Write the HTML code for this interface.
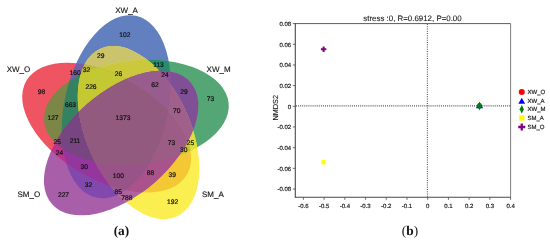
<!DOCTYPE html>
<html><head><meta charset="utf-8"><title>Venn and NMDS</title>
<style>
html,body{margin:0;padding:0;background:#fff;}
body{width:550px;height:242px;overflow:hidden;}
svg{display:block;will-change:transform;text-rendering:geometricPrecision;font-family:"Liberation Sans","DejaVu Sans",sans-serif;}
</style></head><body>
<svg width="550" height="242" viewBox="0 0 550 242">
<g id="venn">
<defs>
<clipPath id="cR"><ellipse cx="106.65" cy="127.69" rx="93.00" ry="51.90" transform="rotate(30.30 106.65 127.69)"/></clipPath>
<clipPath id="cB"><ellipse cx="116.21" cy="106.74" rx="93.00" ry="51.90" transform="rotate(102.30 116.21 106.74)"/></clipPath>
<clipPath id="cG"><ellipse cx="136.42" cy="112.31" rx="92.70" ry="51.90" transform="rotate(174.30 136.42 112.31)"/></clipPath>
<clipPath id="cY"><ellipse cx="138.53" cy="132.56" rx="92.15" ry="51.90" transform="rotate(245.50 138.53 132.56)"/></clipPath>
<clipPath id="cP"><ellipse cx="121.09" cy="143.11" rx="92.20" ry="51.70" transform="rotate(318.60 121.09 143.11)"/></clipPath>
</defs>
<ellipse cx="116.21" cy="106.74" rx="93.00" ry="51.90" transform="rotate(102.30 116.21 106.74)" fill="rgb(98,128,192)"/>
<ellipse cx="136.42" cy="112.31" rx="92.70" ry="51.90" transform="rotate(174.30 136.42 112.31)" fill="rgb(84,166,116)"/>
<ellipse cx="121.09" cy="143.11" rx="92.20" ry="51.70" transform="rotate(318.60 121.09 143.11)" fill="rgb(168,94,168)"/>
<ellipse cx="106.65" cy="127.69" rx="93.00" ry="51.90" transform="rotate(30.30 106.65 127.69)" fill="rgb(238,84,98)"/>
<ellipse cx="138.53" cy="132.56" rx="92.15" ry="51.90" transform="rotate(245.50 138.53 132.56)" fill="rgb(250,238,80)"/>
<g clip-path="url(#cB)"><g clip-path="url(#cG)"><rect x="0" y="0" width="260" height="242" fill="rgb(40,140,110)"/></g></g>
<g clip-path="url(#cB)"><g clip-path="url(#cP)"><rect x="0" y="0" width="260" height="242" fill="rgb(129,72,174)"/></g></g>
<g clip-path="url(#cB)"><g clip-path="url(#cY)"><rect x="0" y="0" width="260" height="242" fill="rgb(203,196,108)"/></g></g>
<g clip-path="url(#cG)"><g clip-path="url(#cP)"><rect x="0" y="0" width="260" height="242" fill="rgb(128,80,150)"/></g></g>
<g clip-path="url(#cG)"><g clip-path="url(#cY)"><rect x="0" y="0" width="260" height="242" fill="rgb(222,224,58)"/></g></g>
<g clip-path="url(#cR)"><g clip-path="url(#cB)"><rect x="0" y="0" width="260" height="242" fill="rgb(116,96,170)"/></g></g>
<g clip-path="url(#cR)"><g clip-path="url(#cG)"><rect x="0" y="0" width="260" height="242" fill="rgb(124,134,70)"/></g></g>
<g clip-path="url(#cR)"><g clip-path="url(#cP)"><rect x="0" y="0" width="260" height="242" fill="rgb(190,50,140)"/></g></g>
<g clip-path="url(#cR)"><g clip-path="url(#cY)"><rect x="0" y="0" width="260" height="242" fill="rgb(244,200,52)"/></g></g>
<g clip-path="url(#cY)"><g clip-path="url(#cP)"><rect x="0" y="0" width="260" height="242" fill="rgb(172,100,156)"/></g></g>
<g clip-path="url(#cB)"><g clip-path="url(#cG)"><g clip-path="url(#cP)"><rect x="0" y="0" width="260" height="242" fill="rgb(142,80,150)"/></g></g></g>
<g clip-path="url(#cB)"><g clip-path="url(#cG)"><g clip-path="url(#cY)"><rect x="0" y="0" width="260" height="242" fill="rgb(203,200,62)"/></g></g></g>
<g clip-path="url(#cB)"><g clip-path="url(#cY)"><g clip-path="url(#cP)"><rect x="0" y="0" width="260" height="242" fill="rgb(150,90,150)"/></g></g></g>
<g clip-path="url(#cG)"><g clip-path="url(#cY)"><g clip-path="url(#cP)"><rect x="0" y="0" width="260" height="242" fill="rgb(160,96,139)"/></g></g></g>
<g clip-path="url(#cR)"><g clip-path="url(#cB)"><g clip-path="url(#cG)"><rect x="0" y="0" width="260" height="242" fill="rgb(52,130,98)"/></g></g></g>
<g clip-path="url(#cR)"><g clip-path="url(#cB)"><g clip-path="url(#cP)"><rect x="0" y="0" width="260" height="242" fill="rgb(149,54,158)"/></g></g></g>
<g clip-path="url(#cR)"><g clip-path="url(#cB)"><g clip-path="url(#cY)"><rect x="0" y="0" width="260" height="242" fill="rgb(188,186,62)"/></g></g></g>
<g clip-path="url(#cR)"><g clip-path="url(#cG)"><g clip-path="url(#cP)"><rect x="0" y="0" width="260" height="242" fill="rgb(130,70,126)"/></g></g></g>
<g clip-path="url(#cR)"><g clip-path="url(#cG)"><g clip-path="url(#cY)"><rect x="0" y="0" width="260" height="242" fill="rgb(205,195,52)"/></g></g></g>
<g clip-path="url(#cR)"><g clip-path="url(#cY)"><g clip-path="url(#cP)"><rect x="0" y="0" width="260" height="242" fill="rgb(169,82,140)"/></g></g></g>
<g clip-path="url(#cB)"><g clip-path="url(#cG)"><g clip-path="url(#cY)"><g clip-path="url(#cP)"><rect x="0" y="0" width="260" height="242" fill="rgb(152,92,142)"/></g></g></g></g>
<g clip-path="url(#cR)"><g clip-path="url(#cB)"><g clip-path="url(#cG)"><g clip-path="url(#cP)"><rect x="0" y="0" width="260" height="242" fill="rgb(118,69,130)"/></g></g></g></g>
<g clip-path="url(#cR)"><g clip-path="url(#cB)"><g clip-path="url(#cG)"><g clip-path="url(#cY)"><rect x="0" y="0" width="260" height="242" fill="rgb(196,200,50)"/></g></g></g></g>
<g clip-path="url(#cR)"><g clip-path="url(#cB)"><g clip-path="url(#cY)"><g clip-path="url(#cP)"><rect x="0" y="0" width="260" height="242" fill="rgb(152,84,136)"/></g></g></g></g>
<g clip-path="url(#cR)"><g clip-path="url(#cG)"><g clip-path="url(#cY)"><g clip-path="url(#cP)"><rect x="0" y="0" width="260" height="242" fill="rgb(156,92,134)"/></g></g></g></g>
<g clip-path="url(#cR)"><g clip-path="url(#cB)"><g clip-path="url(#cG)"><g clip-path="url(#cY)"><g clip-path="url(#cP)"><rect x="0" y="0" width="260" height="242" fill="rgb(146,90,126)"/></g></g></g></g></g>
<text x="124.8" y="37.0" font-size="6.7" text-anchor="middle" fill="#111" stroke="#111" stroke-width="0.2">102</text>
<text x="100.8" y="58.4" font-size="6.7" text-anchor="middle" fill="#111" stroke="#111" stroke-width="0.2">29</text>
<text x="158.5" y="66.9" font-size="6.7" text-anchor="middle" fill="#111" stroke="#111" stroke-width="0.2">113</text>
<text x="165" y="76.7" font-size="6.7" text-anchor="middle" fill="#111" stroke="#111" stroke-width="0.2">24</text>
<text x="118.6" y="75.7" font-size="6.7" text-anchor="middle" fill="#111" stroke="#111" stroke-width="0.2">26</text>
<text x="86.6" y="71.7" font-size="6.7" text-anchor="middle" fill="#111" stroke="#111" stroke-width="0.2">32</text>
<text x="75.1" y="74.8" font-size="6.7" text-anchor="middle" fill="#111" stroke="#111" stroke-width="0.2">160</text>
<text x="41.5" y="94.4" font-size="6.7" text-anchor="middle" fill="#111" stroke="#111" stroke-width="0.2">98</text>
<text x="91" y="89.0" font-size="6.7" text-anchor="middle" fill="#111" stroke="#111" stroke-width="0.2">226</text>
<text x="70.5" y="107.4" font-size="6.7" text-anchor="middle" fill="#111" stroke="#111" stroke-width="0.2">663</text>
<text x="53" y="119.9" font-size="6.7" text-anchor="middle" fill="#111" stroke="#111" stroke-width="0.2">127</text>
<text x="123" y="120.0" font-size="6.7" text-anchor="middle" fill="#111" stroke="#111" stroke-width="0.2">1373</text>
<text x="155.1" y="86.7" font-size="6.7" text-anchor="middle" fill="#111" stroke="#111" stroke-width="0.2">62</text>
<text x="184" y="94.4" font-size="6.7" text-anchor="middle" fill="#111" stroke="#111" stroke-width="0.2">29</text>
<text x="210.5" y="101.2" font-size="6.7" text-anchor="middle" fill="#111" stroke="#111" stroke-width="0.2">73</text>
<text x="176.7" y="112.7" font-size="6.7" text-anchor="middle" fill="#111" stroke="#111" stroke-width="0.2">70</text>
<text x="190.5" y="145.2" font-size="6.7" text-anchor="middle" fill="#111" stroke="#111" stroke-width="0.2">25</text>
<text x="183.8" y="152.1" font-size="6.7" text-anchor="middle" fill="#111" stroke="#111" stroke-width="0.2">30</text>
<text x="171.4" y="145.4" font-size="6.7" text-anchor="middle" fill="#111" stroke="#111" stroke-width="0.2">73</text>
<text x="150.4" y="175.2" font-size="6.7" text-anchor="middle" fill="#111" stroke="#111" stroke-width="0.2">88</text>
<text x="172.2" y="177.2" font-size="6.7" text-anchor="middle" fill="#111" stroke="#111" stroke-width="0.2">39</text>
<text x="172.7" y="203.6" font-size="6.7" text-anchor="middle" fill="#111" stroke="#111" stroke-width="0.2">192</text>
<text x="118.3" y="178.2" font-size="6.7" text-anchor="middle" fill="#111" stroke="#111" stroke-width="0.2">100</text>
<text x="118.3" y="193.9" font-size="6.7" text-anchor="middle" fill="#111" stroke="#111" stroke-width="0.2">85</text>
<text x="126.8" y="199.8" font-size="6.7" text-anchor="middle" fill="#111" stroke="#111" stroke-width="0.2">788</text>
<text x="63.5" y="197.4" font-size="6.7" text-anchor="middle" fill="#111" stroke="#111" stroke-width="0.2">227</text>
<text x="88.6" y="187.0" font-size="6.7" text-anchor="middle" fill="#111" stroke="#111" stroke-width="0.2">32</text>
<text x="84.3" y="168.8" font-size="6.7" text-anchor="middle" fill="#111" stroke="#111" stroke-width="0.2">30</text>
<text x="59.5" y="154.9" font-size="6.7" text-anchor="middle" fill="#111" stroke="#111" stroke-width="0.2">24</text>
<text x="57.2" y="144.0" font-size="6.7" text-anchor="middle" fill="#111" stroke="#111" stroke-width="0.2">25</text>
<text x="75" y="143.4" font-size="6.7" text-anchor="middle" fill="#111" stroke="#111" stroke-width="0.2">211</text>
<text x="18.5" y="71.6" font-size="8" text-anchor="middle" fill="#111" stroke="#111" stroke-width="0.12">XW_O</text>
<text x="126.6" y="12.8" font-size="8" text-anchor="middle" fill="#111" stroke="#111" stroke-width="0.12">XW_A</text>
<text x="218.6" y="71.6" font-size="8" text-anchor="middle" fill="#111" stroke="#111" stroke-width="0.12">XW_M</text>
<text x="212.9" y="197.2" font-size="8" text-anchor="middle" fill="#111" stroke="#111" stroke-width="0.12">SM_A</text>
<text x="28.8" y="197.2" font-size="8" text-anchor="middle" fill="#111" stroke="#111" stroke-width="0.12">SM_O</text>
</g>
<g id="nmds">
<line x1="296" y1="105.9" x2="510.6" y2="105.9" stroke="#555" stroke-width="1.1" stroke-dasharray="1 1.07"/>
<line x1="427.4" y1="24" x2="427.4" y2="197.3" stroke="#555" stroke-width="1.1" stroke-dasharray="1 1.26"/>
<line x1="295.3" y1="23.6" x2="510.6" y2="23.6" stroke="#484848" stroke-width="0.9"/>
<line x1="510.6" y1="23.6" x2="510.6" y2="197.3" stroke="#484848" stroke-width="0.7"/>
<line x1="295.3" y1="23.1" x2="295.3" y2="197.8" stroke="#484848" stroke-width="1.1"/>
<line x1="295.3" y1="197.3" x2="510.6" y2="197.3" stroke="#484848" stroke-width="1.1"/>
<line x1="292.8" y1="189.02" x2="295.3" y2="189.02" stroke="#484848" stroke-width="0.8"/>
<text x="291.1" y="191.42" font-size="6" text-anchor="end" fill="#1a1a1a" stroke="#1a1a1a" stroke-width="0.18">-0.08</text>
<line x1="292.8" y1="168.34" x2="295.3" y2="168.34" stroke="#484848" stroke-width="0.8"/>
<text x="291.1" y="170.74" font-size="6" text-anchor="end" fill="#1a1a1a" stroke="#1a1a1a" stroke-width="0.18">-0.06</text>
<line x1="292.8" y1="147.66" x2="295.3" y2="147.66" stroke="#484848" stroke-width="0.8"/>
<text x="291.1" y="150.06" font-size="6" text-anchor="end" fill="#1a1a1a" stroke="#1a1a1a" stroke-width="0.18">-0.04</text>
<line x1="292.8" y1="126.98" x2="295.3" y2="126.98" stroke="#484848" stroke-width="0.8"/>
<text x="291.1" y="129.38" font-size="6" text-anchor="end" fill="#1a1a1a" stroke="#1a1a1a" stroke-width="0.18">-0.02</text>
<line x1="292.8" y1="106.30" x2="295.3" y2="106.30" stroke="#484848" stroke-width="0.8"/>
<text x="291.1" y="108.70" font-size="6" text-anchor="end" fill="#1a1a1a" stroke="#1a1a1a" stroke-width="0.18">0</text>
<line x1="292.8" y1="85.62" x2="295.3" y2="85.62" stroke="#484848" stroke-width="0.8"/>
<text x="291.1" y="88.02" font-size="6" text-anchor="end" fill="#1a1a1a" stroke="#1a1a1a" stroke-width="0.18">0.02</text>
<line x1="292.8" y1="64.94" x2="295.3" y2="64.94" stroke="#484848" stroke-width="0.8"/>
<text x="291.1" y="67.34" font-size="6" text-anchor="end" fill="#1a1a1a" stroke="#1a1a1a" stroke-width="0.18">0.04</text>
<line x1="292.8" y1="44.26" x2="295.3" y2="44.26" stroke="#484848" stroke-width="0.8"/>
<text x="291.1" y="46.66" font-size="6" text-anchor="end" fill="#1a1a1a" stroke="#1a1a1a" stroke-width="0.18">0.06</text>
<line x1="292.8" y1="23.58" x2="295.3" y2="23.58" stroke="#484848" stroke-width="0.8"/>
<text x="291.1" y="25.98" font-size="6" text-anchor="end" fill="#1a1a1a" stroke="#1a1a1a" stroke-width="0.18">0.08</text>
<line x1="303.38" y1="197.3" x2="303.38" y2="199.8" stroke="#484848" stroke-width="0.8"/>
<text x="303.38" y="207.70" font-size="6" text-anchor="middle" fill="#1a1a1a" stroke="#1a1a1a" stroke-width="0.18">-0.6</text>
<line x1="324.10" y1="197.3" x2="324.10" y2="199.8" stroke="#484848" stroke-width="0.8"/>
<text x="324.10" y="207.70" font-size="6" text-anchor="middle" fill="#1a1a1a" stroke="#1a1a1a" stroke-width="0.18">-0.5</text>
<line x1="344.82" y1="197.3" x2="344.82" y2="199.8" stroke="#484848" stroke-width="0.8"/>
<text x="344.82" y="207.70" font-size="6" text-anchor="middle" fill="#1a1a1a" stroke="#1a1a1a" stroke-width="0.18">-0.4</text>
<line x1="365.54" y1="197.3" x2="365.54" y2="199.8" stroke="#484848" stroke-width="0.8"/>
<text x="365.54" y="207.70" font-size="6" text-anchor="middle" fill="#1a1a1a" stroke="#1a1a1a" stroke-width="0.18">-0.3</text>
<line x1="386.26" y1="197.3" x2="386.26" y2="199.8" stroke="#484848" stroke-width="0.8"/>
<text x="386.26" y="207.70" font-size="6" text-anchor="middle" fill="#1a1a1a" stroke="#1a1a1a" stroke-width="0.18">-0.2</text>
<line x1="406.98" y1="197.3" x2="406.98" y2="199.8" stroke="#484848" stroke-width="0.8"/>
<text x="406.98" y="207.70" font-size="6" text-anchor="middle" fill="#1a1a1a" stroke="#1a1a1a" stroke-width="0.18">-0.1</text>
<line x1="427.70" y1="197.3" x2="427.70" y2="199.8" stroke="#484848" stroke-width="0.8"/>
<text x="427.70" y="207.70" font-size="6" text-anchor="middle" fill="#1a1a1a" stroke="#1a1a1a" stroke-width="0.18">0</text>
<line x1="448.42" y1="197.3" x2="448.42" y2="199.8" stroke="#484848" stroke-width="0.8"/>
<text x="448.42" y="207.70" font-size="6" text-anchor="middle" fill="#1a1a1a" stroke="#1a1a1a" stroke-width="0.18">0.1</text>
<line x1="469.14" y1="197.3" x2="469.14" y2="199.8" stroke="#484848" stroke-width="0.8"/>
<text x="469.14" y="207.70" font-size="6" text-anchor="middle" fill="#1a1a1a" stroke="#1a1a1a" stroke-width="0.18">0.2</text>
<line x1="489.86" y1="197.3" x2="489.86" y2="199.8" stroke="#484848" stroke-width="0.8"/>
<text x="489.86" y="207.70" font-size="6" text-anchor="middle" fill="#1a1a1a" stroke="#1a1a1a" stroke-width="0.18">0.3</text>
<line x1="510.58" y1="197.3" x2="510.58" y2="199.8" stroke="#484848" stroke-width="0.8"/>
<text x="510.58" y="207.70" font-size="6" text-anchor="middle" fill="#1a1a1a" stroke="#1a1a1a" stroke-width="0.18">0.4</text>
<text x="412.5" y="20.6" font-size="7.9" text-anchor="middle" fill="#1a1a1a" stroke="#1a1a1a" stroke-width="0.1">stress :0, R=0.6912, P=0.00</text>
<text x="278" y="107.8" font-size="7.3" text-anchor="middle" fill="#1a1a1a" stroke="#1a1a1a" stroke-width="0.12" transform="rotate(-90 278 107.8)">NMDS2</text>
<circle cx="479.5" cy="105.6" r="2.45" fill="#ff0000"/>
<polygon points="475.90,108.20 483.10,108.20 479.50,102.00" fill="#0000ff"/>
<polygon points="476.90,106.00 479.50,101.65 482.10,106.00 479.50,110.35" fill="#008000"/>
<path d="M320.90 48.25h5.4v2.0h-5.4zM322.60 46.55h2.0v5.4h-2.0z" fill="#800080"/>
<rect x="321.45" y="160.10" width="4.3" height="4.3" fill="#ffff00"/>
<circle cx="521.75" cy="91.9" r="3.0" fill="#ff0000"/>
<polygon points="518.35,103.70 525.15,103.70 521.75,97.70" fill="#0000ff"/>
<polygon points="519.65,109.20 521.75,105.00 523.85,109.20 521.75,113.40" fill="#008000"/>
<rect x="519.05" y="115.20" width="5.4" height="5.4" fill="#ffff00"/>
<path d="M518.25 125.85h7.0v2.3h-7.0zM520.60 123.50h2.3v7.0h-2.3z" fill="#800080"/>
<text x="527.5" y="94.10" font-size="6" fill="#1a1a1a" stroke="#1a1a1a" stroke-width="0.18">XW_O</text>
<text x="527.5" y="102.90" font-size="6" fill="#1a1a1a" stroke="#1a1a1a" stroke-width="0.18">XW_A</text>
<text x="527.5" y="111.40" font-size="6" fill="#1a1a1a" stroke="#1a1a1a" stroke-width="0.18">XW_M</text>
<text x="527.5" y="120.10" font-size="6" fill="#1a1a1a" stroke="#1a1a1a" stroke-width="0.18">SM_A</text>
<text x="527.5" y="129.20" font-size="6" fill="#1a1a1a" stroke="#1a1a1a" stroke-width="0.18">SM_O</text>
</g>
<text x="121.4" y="234.9" font-size="13.3" font-weight="bold" text-anchor="middle" font-family="'Liberation Serif','DejaVu Serif',serif" fill="#111">(a)</text>
<text x="410" y="234.9" font-size="13.3" font-weight="bold" text-anchor="middle" font-family="'Liberation Serif','DejaVu Serif',serif" fill="#111"><tspan font-weight="normal">(</tspan>b<tspan font-weight="normal">)</tspan></text>
</svg>
</body></html>
